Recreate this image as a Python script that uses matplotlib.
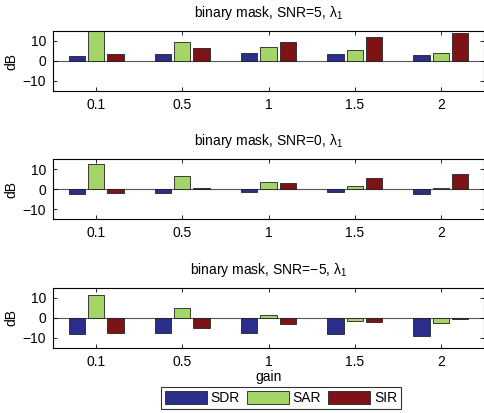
import matplotlib
matplotlib.use("Agg")
import matplotlib.pyplot as plt
import numpy as np

plt.rcParams['font.family'] = ['Liberation Sans', 'DejaVu Sans']
plt.rcParams['mathtext.fontset'] = 'custom'
plt.rcParams['mathtext.rm'] = 'Liberation Sans'
plt.rcParams['mathtext.it'] = 'Liberation Sans'

gains = ['0.1', '0.5', '1', '1.5', '2']
series = ['SDR', 'SAR', 'SIR']
titles = ['binary mask, SNR=5, $\\lambda_1$',
          'binary mask, SNR=0, $\\lambda_1$',
          'binary mask, SNR=\u22125, $\\lambda_1$']

sdr_snr5 = [2.7, 3.7, 4.2, 3.7, 2.8]
sar_snr5 = [14.8, 9.3, 6.8, 5.3, 4.0]
sir_snr5 = [3.5, 6.3, 9.3, 11.8, 14.0]

sdr_snr0 = [-2.5, -1.7, -1.3, -1.5, -2.2]
sar_snr0 = [12.7, 6.5, 3.5, 1.8, 0.5]
sir_snr0 = [-1.8, 0.8, 3.3, 5.5, 7.5]

sdr_snrm5 = [-8.0, -7.5, -7.5, -8.0, -9.0]
sar_snrm5 = [11.3, 4.8, 1.2, -1.5, -2.8]
sir_snrm5 = [-7.5, -5.3, -3.3, -2.0, -0.7]

panels = [(sdr_snr5, sar_snr5, sir_snr5),
          (sdr_snr0, sar_snr0, sir_snr0),
          (sdr_snrm5, sar_snrm5, sir_snrm5)]

colors = ['#2B2E8A', '#A5D568', '#7E1316']

W, H = 484, 413
fig = plt.figure(figsize=(W / 100, H / 100), dpi=100)

# axes boxes in pixel coords: (left, top, right, bottom)
boxes = [(53, 31, 484, 91), (53, 159.3, 484, 219.3), (53, 287.7, 484, 347.7)]
x = np.arange(1, len(gains) + 1)
bw = 0.19
off = 0.224
fs = 10

handles = None
for i, (box, vals, title) in enumerate(zip(boxes, panels, titles)):
    l, t, r, b = box
    ax = fig.add_axes([l / W, 1 - b / H, (r - l) / W, (b - t) / H])
    hs = []
    for j, (v, c) in enumerate(zip(vals, colors)):
        h = ax.bar(x + (j - 1) * off, v, width=bw, color=c, edgecolor='#222222',
                   linewidth=0.6, zorder=2)
        hs.append(h)
    if handles is None:
        handles = hs
    ax.axhline(0, color='#555555', linewidth=0.8, zorder=1)
    ax.set_xlim(0.5, 5.5)
    ax.set_ylim(-15, 15)
    ax.set_yticks([-10, 0, 10])
    ax.set_yticklabels(['\u221210', '0', '10'])
    ax.set_xticks(x)
    ax.set_xticklabels(gains)
    ax.tick_params(direction='in', top=True, right=True, labelsize=fs,
                   length=3, width=0.6, pad=5)
    for s in ax.spines.values():
        s.set_linewidth(0.8)
    ax.set_title(title, fontsize=fs, pad=10)
    ax.set_ylabel('dB', fontsize=fs, labelpad=3)
    if i == 2:
        ax.set_xlabel('gain', fontsize=fs, labelpad=1)

leg = fig.legend(handles, series, loc='center',
                 bbox_to_anchor=(281 / W, 1 - 398 / H), ncol=3, fontsize=fs,
                 frameon=True, fancybox=False, edgecolor='black',
                 handlelength=3.0, handleheight=1.1, columnspacing=0.5,
                 handletextpad=0.3, borderpad=0.3)
leg.get_frame().set_linewidth(0.8)

fig.savefig('out.png', dpi=100)
